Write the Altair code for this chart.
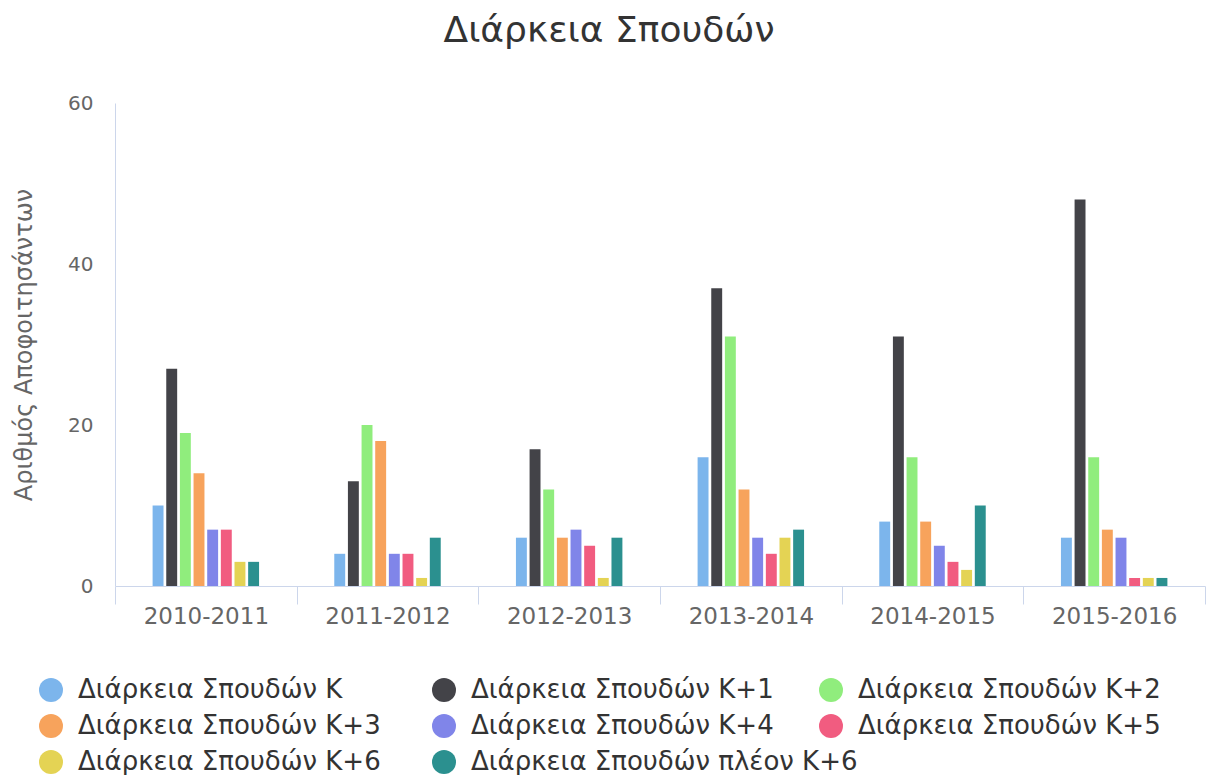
import altair as alt
import pandas as pd

years = ["2010-2011", "2011-2012", "2012-2013", "2013-2014", "2014-2015", "2015-2016"]
series_names = [
    "Διάρκεια Σπουδών K",
    "Διάρκεια Σπουδών K+1",
    "Διάρκεια Σπουδών K+2",
    "Διάρκεια Σπουδών K+3",
    "Διάρκεια Σπουδών K+4",
    "Διάρκεια Σπουδών K+5",
    "Διάρκεια Σπουδών K+6",
    "Διάρκεια Σπουδών πλέον K+6",
]
s_k = [10, 4, 6, 16, 8, 6]
s_k1 = [27, 13, 17, 37, 31, 48]
s_k2 = [19, 20, 12, 31, 16, 16]
s_k3 = [14, 18, 6, 12, 8, 7]
s_k4 = [7, 4, 7, 6, 5, 6]
s_k5 = [7, 4, 5, 4, 3, 1]
s_k6 = [3, 1, 1, 6, 2, 1]
s_plus = [3, 6, 6, 7, 10, 1]
colors = ["#7cb5ec", "#434348", "#90ed7d", "#f7a35c", "#8085e9", "#f15c80", "#e4d354", "#2b908f"]

all_series = [s_k, s_k1, s_k2, s_k3, s_k4, s_k5, s_k6, s_plus]
rows = []
for name, vals in zip(series_names, all_series):
    for y, v in zip(years, vals):
        rows.append({"year": y, "series": name, "value": v})
df = pd.DataFrame(rows)

# group padding slots (empty) on both sides of each category group
offset_domain = ["_pad1", "_pad2"] + series_names + ["_pad3", "_pad4"]

# legend is split in two blocks so that the rows flow like the original
idx_a = [0, 1, 3, 4, 6, 7]
idx_b = [2, 5]

FONT = "DejaVu Sans"


def legend(x, y, cols, pad):
    return alt.Legend(title=None, orient="none", legendX=x, legendY=y,
                      direction="horizontal", columns=cols, symbolType="circle",
                      symbolSize=576, symbolStrokeWidth=0, symbolOpacity=1,
                      labelFontSize=26, labelFont=FONT, labelColor="#333333",
                      labelLimit=0, columnPadding=pad, rowPadding=10, labelOffset=14)


def layer(idx, leg):
    names = [series_names[i] for i in idx]
    cols = [colors[i] for i in idx]
    return alt.Chart(df).transform_filter(
        alt.FieldOneOfPredicate(field="series", oneOf=names)
    ).mark_bar().encode(
        x=alt.X("year:N", sort=years, title=None,
                scale=alt.Scale(paddingInner=0, paddingOuter=0),
                axis=alt.Axis(labelAngle=0, labelFontSize=23, labelColor="#666666", labelFont=FONT,
                              domainColor="#ccd6eb", tickColor="#ccd6eb", tickSize=18,
                              tickBand="extent", labelPadding=1, grid=False)),
        xOffset=alt.XOffset("series:N",
                            scale=alt.Scale(domain=offset_domain, paddingInner=0.2,
                                            paddingOuter=0.755)),
        y=alt.Y("value:Q", title="Αριθμός Αποφοιτησάντων",
                scale=alt.Scale(domain=[0, 60], nice=False),
                axis=alt.Axis(values=[0, 20, 40, 60], grid=False, ticks=False, labelPadding=22,
                              labelFontSize=20, labelColor="#666666", labelFont=FONT,
                              domainColor="#ccd6eb", titleFontSize=24, titleFont=FONT,
                              titleColor="#666666", titleFontWeight="normal", titlePadding=31)),
        color=alt.Color("series:N", sort=names,
                        scale=alt.Scale(domain=names, range=cols),
                        legend=leg),
    )


chart = alt.layer(
    layer(idx_a, legend(-77, 574, 2, 50)),
    layer(idx_b, legend(703, 574, 1, 50)),
).resolve_scale(color="independent").properties(
    width=1090,
    height=483,
    title=alt.TitleParams("Διάρκεια Σπουδών", fontSize=36, font=FONT, color="#333333",
                          fontWeight="normal", anchor="middle", frame="bounds", offset=43),
    padding={"left": 4, "top": 5, "right": 0, "bottom": 0},
).configure_view(stroke=None)

chart.save("out.html", embed_options={"renderer": "svg", "actions": False})
